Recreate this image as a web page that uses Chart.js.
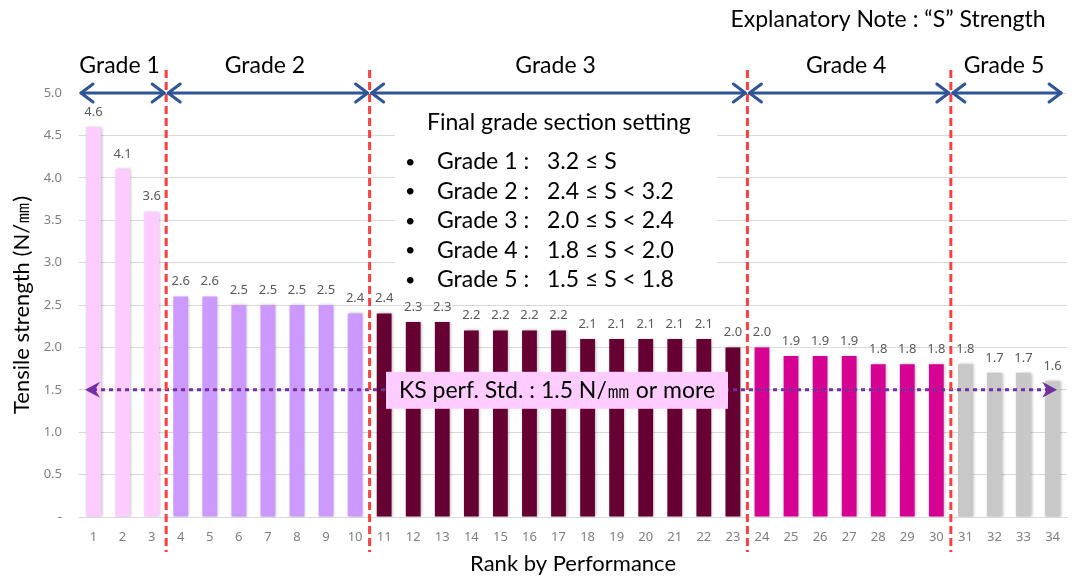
<!DOCTYPE html>
<html>
<head>
<meta charset="utf-8">
<script src="https://cdn.jsdelivr.net/npm/chart.js@4.4.1/dist/chart.umd.min.js"></script>
<style>
  html, body { margin: 0; padding: 0; background: #ffffff; }
  #wrap { width: 1072px; height: 578px; }
</style>
</head>
<body>
<div id="wrap"><canvas id="c" width="1072" height="578"></canvas></div>
<script>
// Rank of each specimen and its tensile strength (N/mm)
const ranks = ['1','2','3','4','5','6','7','8','9','10','11','12','13','14','15','16','17',
               '18','19','20','21','22','23','24','25','26','27','28','29','30','31','32','33','34'];
const strength = [4.6, 4.1, 3.6, 2.6, 2.6, 2.5, 2.5, 2.5, 2.5, 2.4, 2.4, 2.3, 2.3, 2.2, 2.2, 2.2, 2.2,
                  2.1, 2.1, 2.1, 2.1, 2.1, 2.0, 2.0, 1.9, 1.9, 1.9, 1.8, 1.8, 1.8, 1.8, 1.7, 1.7, 1.6];

// Grade groups: how many ranks fall in each grade
const gradeNames = ['Grade 1', 'Grade 2', 'Grade 3', 'Grade 4', 'Grade 5'];
const gradeSizes = [3, 7, 13, 7, 4];
const gradeColors = ['#FFCCFF', '#CC99FF', '#660033', '#D60093', '#C8C8C8'];
const gradeRanges = ['3.2 \u2264 S', '2.4 \u2264 S < 3.2', '2.0 \u2264 S < 2.4', '1.8 \u2264 S < 2.0', '1.5 \u2264 S < 1.8'];

// Minimum required by the KS performance standard
const ksStandard = 1.5;
const ksLabel = 'KS perf. Std. : 1.5 N/\u339C or more';

const yMin = 0, yMax = 5.0, yStep = 0.5;

// One colour per bar, taken from its grade
const barColors = [];
gradeSizes.forEach((n, g) => { for (let i = 0; i < n; i++) barColors.push(gradeColors[g]); });

const TEXT_FONT = 'Lato, "Noto Sans", sans-serif';
const TICK_FONT = '"Noto Sans", sans-serif';

function chevron(ctx, tipX, y, dir) {
  ctx.beginPath();
  ctx.moveTo(tipX + dir * 12, y - 9);
  ctx.lineTo(tipX, y);
  ctx.lineTo(tipX + dir * 12, y + 9);
  ctx.stroke();
}

function stealth(ctx, tipX, y, dir) {
  ctx.beginPath();
  ctx.moveTo(tipX, y);
  ctx.lineTo(tipX + dir * 15, y - 8);
  ctx.lineTo(tipX + dir * 10, y);
  ctx.lineTo(tipX + dir * 15, y + 8);
  ctx.closePath();
  ctx.fill();
}

const annotations = {
  id: 'annotations',
  beforeDatasetsDraw(chart) {
    const ctx = chart.ctx;
    ctx.save();
    ctx.shadowColor = 'rgba(0,0,0,0.28)';
    ctx.shadowBlur = 3;
    ctx.shadowOffsetX = 1;
  },
  afterDatasetsDraw(chart) {
    const ctx = chart.ctx;
    ctx.restore();
    // value labels above each bar
    const meta = chart.getDatasetMeta(0);
    ctx.save();
    ctx.font = '13px ' + TICK_FONT;
    ctx.fillStyle = '#595959';
    ctx.textAlign = 'center';
    ctx.textBaseline = 'middle';
    meta.data.forEach((bar, i) => {
      ctx.fillText(strength[i].toFixed(1), bar.x, bar.y - 15);
    });
    ctx.restore();
  },
  afterDraw(chart) {
    const ctx = chart.ctx;
    const xs = chart.scales.x, ys = chart.scales.y;
    const area = chart.chartArea;
    const half = (xs.getPixelForValue(1) - xs.getPixelForValue(0)) / 2;

    // grade boundaries (between the last rank of one grade and the first of the next)
    const bounds = [];
    let idx = 0;
    gradeSizes.forEach((n, g) => {
      idx += n;
      if (g < gradeSizes.length - 1) bounds.push(xs.getPixelForValue(idx - 1) + half);
    });

    // KS standard: dotted line with arrowheads
    const yKs = ys.getPixelForValue(ksStandard);
    ctx.save();
    ctx.strokeStyle = '#7030A0';
    ctx.fillStyle = '#7030A0';
    ctx.lineWidth = 3;
    ctx.setLineDash([4, 4]);
    ctx.beginPath();
    ctx.moveTo(area.left + 14, yKs);
    ctx.lineTo(area.right - 18, yKs);
    ctx.stroke();
    ctx.setLineDash([]);
    stealth(ctx, area.left + 6, yKs, 1);
    stealth(ctx, area.right - 10, yKs, -1);
    ctx.restore();

    // KS standard label
    ctx.save();
    ctx.fillStyle = '#FFCCFF';
    ctx.fillRect(386, yKs - 18, 342, 37);
    ctx.fillStyle = '#000000';
    ctx.font = '23px ' + TEXT_FONT;
    ctx.textAlign = 'center';
    ctx.textBaseline = 'middle';
    ctx.fillText(ksLabel, 557, yKs + 1);
    ctx.restore();

    // grade section legend box
    ctx.save();
    ctx.fillStyle = '#ffffff';
    ctx.fillRect(395, 100, 322, 197);
    ctx.fillStyle = '#000000';
    ctx.font = '23px ' + TEXT_FONT;
    ctx.textBaseline = 'middle';
    ctx.textAlign = 'left';
    ctx.fillText('Final grade section setting', 427, 123);
    gradeNames.forEach((name, g) => {
      const y = 162 + g * 29.5;
      ctx.font = '18px ' + TEXT_FONT;
      ctx.fillText('\u2022', 405, y);
      ctx.font = '23px ' + TEXT_FONT;
      ctx.fillText(name + ' :', 437, y);
      ctx.fillText(gradeRanges[g], 547, y);
    });
    ctx.restore();

    // red dashed grade dividers
    ctx.save();
    ctx.strokeStyle = '#FF4040';
    ctx.lineWidth = 3;
    ctx.setLineDash([8, 4]);
    bounds.forEach(bx => {
      ctx.beginPath();
      ctx.moveTo(bx, area.top - 23);
      ctx.lineTo(bx, area.bottom + 35);
      ctx.stroke();
    });
    ctx.restore();

    // blue double arrows for each grade span, with grade names
    const y5 = ys.getPixelForValue(yMax);
    const edges = [area.left].concat(bounds).concat([area.right - 4]);
    ctx.save();
    ctx.strokeStyle = '#2F5597';
    ctx.lineWidth = 3;
    ctx.lineCap = 'round';
    ctx.lineJoin = 'round';
    ctx.font = '23px ' + TEXT_FONT;
    ctx.fillStyle = '#000000';
    ctx.textAlign = 'center';
    ctx.textBaseline = 'middle';
    for (let g = 0; g < gradeNames.length; g++) {
      const a = edges[g] + 2;
      const b = edges[g + 1] - 2;
      ctx.beginPath();
      ctx.moveTo(a, y5);
      ctx.lineTo(b, y5);
      ctx.stroke();
      chevron(ctx, a, y5, 1);
      chevron(ctx, b, y5, -1);
      ctx.fillText(gradeNames[g], (edges[g] + edges[g + 1]) / 2 - 3, 66);
    }
    ctx.restore();

    // explanatory note
    ctx.save();
    ctx.font = '23px ' + TEXT_FONT;
    ctx.fillStyle = '#000000';
    ctx.textAlign = 'center';
    ctx.textBaseline = 'middle';
    ctx.fillText('Explanatory Note : \u201CS\u201D Strength', 888, 20);
    ctx.restore();
  }
};

new Chart(document.getElementById('c'), {
  type: 'bar',
  data: {
    labels: ranks,
    datasets: [{
      data: strength,
      backgroundColor: barColors,
      borderWidth: 0,
      categoryPercentage: 1.0,
      barPercentage: 0.51
    }]
  },
  options: {
    responsive: false,
    animation: false,
    events: [],
    layout: { padding: { top: 93, right: 0, bottom: 0, left: 0 } },
    plugins: { legend: { display: false }, tooltip: { enabled: false } },
    scales: {
      x: {
        grid: { display: false, drawTicks: false },
        border: { display: true, color: '#D9D9D9', width: 1 },
        ticks: { color: '#7F7F7F', font: { family: TICK_FONT, size: 13 }, padding: 12, maxRotation: 0, autoSkip: false },
        title: { display: true, text: 'Rank by Performance', color: '#000000',
                 font: { family: TEXT_FONT, size: 22 }, padding: { top: 0, bottom: 1 } },
        afterFit(scale) { scale.height = 61; }
      },
      y: {
        min: yMin, max: yMax,
        grid: { color: '#D9D9D9', drawTicks: false },
        border: { display: false },
        ticks: {
          stepSize: yStep,
          color: '#7F7F7F',
          font: { family: TICK_FONT, size: 13 },
          padding: 17,
          callback: v => (v === 0 ? '-' : Number(v).toFixed(1))
        },
        title: { display: true, text: 'Tensile strength (N/\u339C)', color: '#000000',
                 font: { family: TEXT_FONT, size: 22 }, padding: { top: 9, bottom: 0 } },
        afterFit(scale) { scale.width = 79; }
      }
    }
  },
  plugins: [annotations]
});
</script>
</body>
</html>
